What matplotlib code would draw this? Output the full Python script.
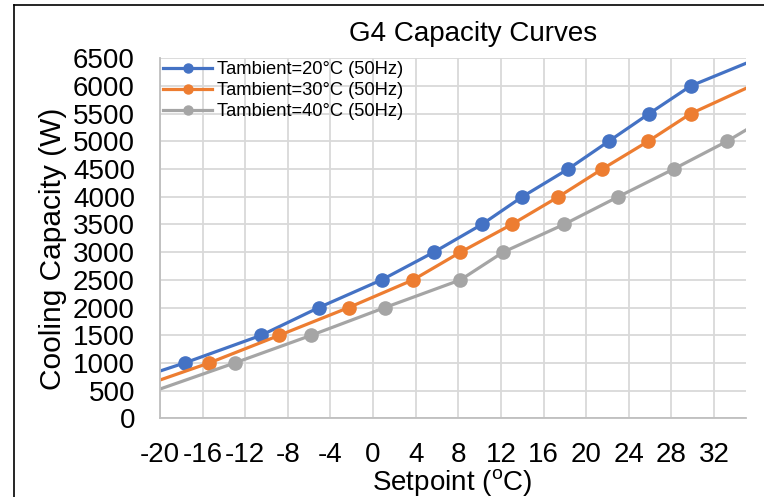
import matplotlib
matplotlib.use("Agg")
import matplotlib.pyplot as plt
from matplotlib.lines import Line2D

plt.rcParams["font.family"] = ["Liberation Sans", "DejaVu Sans"]
plt.rcParams["mathtext.fontset"] = "custom"
plt.rcParams["mathtext.rm"] = "Liberation Sans"
plt.rcParams["axes.unicode_minus"] = False

# setpoint (degC) / capacity (W); first and last entries are the line run-out to the axis edges
setpoint_20 = [-20, -17.7, -10.5, -5.1, 0.8, 5.7, 10.2, 14.0, 18.3, 22.1, 25.9, 29.8, 35]
capacity_20 = [855, 1000, 1500, 2000, 2500, 3000, 3500, 4000, 4500, 5000, 5500, 6000, 6410]

setpoint_30 = [-20, -15.4, -8.8, -2.3, 3.75, 8.2, 13.0, 17.4, 21.5, 25.8, 29.8, 35]
capacity_30 = [693, 1000, 1500, 2000, 2500, 3000, 3500, 4000, 4500, 5000, 5500, 5958]

setpoint_40 = [-20, -13.0, -5.8, 1.1, 8.2, 12.2, 17.9, 23.0, 28.2, 33.2, 35]
capacity_40 = [530, 1000, 1500, 2000, 2500, 3000, 3500, 4000, 4500, 5000, 5206]

series = [
    ("Tambient=20°C (50Hz)", setpoint_20, capacity_20, "#4472C4"),
    ("Tambient=30°C (50Hz)", setpoint_30, capacity_30, "#ED7D31"),
    ("Tambient=40°C (50Hz)", setpoint_40, capacity_40, "#A5A5A5"),
]

x_ticks = list(range(-20, 33, 4))
y_ticks = list(range(0, 6501, 500))

fig = plt.figure(figsize=(7.64, 4.97), dpi=100)
ax = fig.add_axes([160 / 764, 1 - 418.4 / 497, 586 / 764, 360.1 / 497])

handles = []
for label, xs, ys, color in series:
    ax.plot(xs, ys, color=color, lw=2.3, marker="o", markersize=9.5,
            markevery=slice(1, len(xs) - 1))
    handles.append(Line2D([], [], color=color, lw=2.3, marker="o", markersize=6.5, label=label))

ax.set_xlim(-20, 35)
ax.set_ylim(0, 6500)
ax.set_xticks(x_ticks)
ax.set_yticks(y_ticks)
ax.tick_params(length=0, labelsize=20, pad=18)
ax.tick_params(axis="x", pad=17)
ax.grid(color="#D9D9D9", lw=1.3)
ax.set_axisbelow(True)
for side in ["top", "right"]:
    ax.spines[side].set_visible(False)
for side in ["left", "bottom"]:
    ax.spines[side].set_color("#BFBFBF")
    ax.spines[side].set_linewidth(1.3)

ax.legend(handles=handles, loc="upper left", bbox_to_anchor=(0.0, 1.0), frameon=False,
          fontsize=13.2, handlelength=2.7, handletextpad=0.25, borderaxespad=0.05,
          borderpad=0.1, labelspacing=0.22)

fig.text(473 / 764, 1 - 34 / 497, "G4 Capacity Curves", fontsize=20, ha="center", va="center")
fig.text(53 / 764, 1 - 249 / 497, "Cooling Capacity (W)", fontsize=21.5, rotation=90,
         ha="center", va="center")
fig.text(452 / 764, 1 - 491 / 497, "Setpoint ($^{\\mathrm{o}}$C)", fontsize=20,
         ha="center", va="baseline")

# outer chart frame (only left and top edges are inside the crop)
fig.add_artist(Line2D([14 / 764, 14 / 764], [0, 1 - 5 / 497], transform=fig.transFigure,
                      color="black", lw=1.2))
fig.add_artist(Line2D([14 / 764, 1], [1 - 5 / 497, 1 - 5 / 497], transform=fig.transFigure,
                      color="black", lw=1.2))

fig.savefig("out.png", dpi=100)
